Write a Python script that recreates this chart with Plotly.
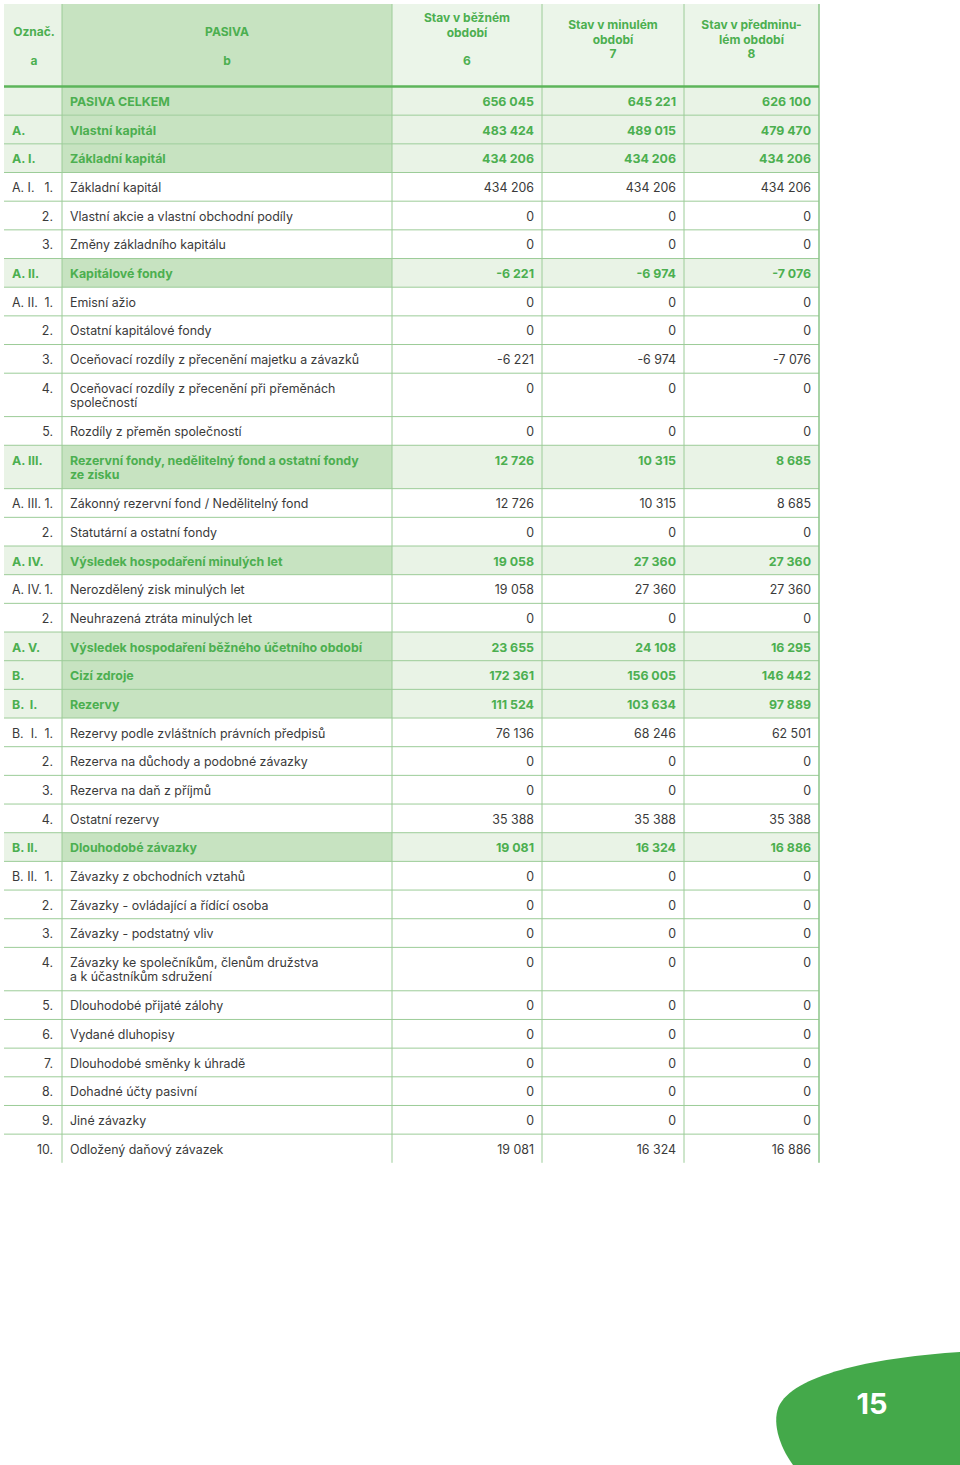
import plotly.graph_objects as go

# ---------------- data ----------------
codes = ["", "A.", "A. I.", "A. I.", "", "", "A. II.", "A. II.", "", "", "", "",
         "A. III.", "A. III.", "", "A. IV.", "A. IV.", "", "A. V.", "B.", "B.  I.",
         "B.  I.", "", "", "", "B. II.", "B. II.", "", "", "", "", "", "", "", "", ""]
nums = ["", "", "", "1.", "2.", "3.", "", "1.", "2.", "3.", "4.", "5.", "", "1.", "2.",
        "", "1.", "2.", "", "", "", "1.", "2.", "3.", "4.", "", "1.", "2.", "3.", "4.",
        "5.", "6.", "7.", "8.", "9.", "10."]
labels = [
    "PASIVA CELKEM",
    "Vlastní kapitál",
    "Základní kapitál",
    "Základní kapitál",
    "Vlastní akcie a vlastní obchodní podíly",
    "Změny základního kapitálu",
    "Kapitálové fondy",
    "Emisní ažio",
    "Ostatní kapitálové fondy",
    "Oceňovací rozdíly z přecenění majetku a závazků",
    "Oceňovací rozdíly z přecenění při přeměnách<br>společností",
    "Rozdíly z přeměn společností",
    "Rezervní fondy, nedělitelný fond a ostatní fondy<br>ze zisku",
    "Zákonný rezervní fond / Nedělitelný fond",
    "Statutární a ostatní fondy",
    "Výsledek hospodaření minulých let",
    "Nerozdělený zisk minulých let",
    "Neuhrazená ztráta minulých let",
    "Výsledek hospodaření běžného účetního období",
    "Cizí zdroje",
    "Rezervy",
    "Rezervy podle zvláštních právních předpisů",
    "Rezerva na důchody a podobné závazky",
    "Rezerva na daň z příjmů",
    "Ostatní rezervy",
    "Dlouhodobé závazky",
    "Závazky z obchodních vztahů",
    "Závazky - ovládající a řídící osoba",
    "Závazky - podstatný vliv",
    "Závazky ke společníkům, členům družstva<br>a k účastníkům sdružení",
    "Dlouhodobé přijaté zálohy",
    "Vydané dluhopisy",
    "Dlouhodobé směnky k úhradě",
    "Dohadné účty pasivní",
    "Jiné závazky",
    "Odložený daňový závazek",
]
current = [656045, 483424, 434206, 434206, 0, 0, -6221, 0, 0, -6221, 0, 0,
           12726, 12726, 0, 19058, 19058, 0, 23655, 172361, 111524, 76136, 0, 0,
           35388, 19081, 0, 0, 0, 0, 0, 0, 0, 0, 0, 19081]
previous = [645221, 489015, 434206, 434206, 0, 0, -6974, 0, 0, -6974, 0, 0,
            10315, 10315, 0, 27360, 27360, 0, 24108, 156005, 103634, 68246, 0, 0,
            35388, 16324, 0, 0, 0, 0, 0, 0, 0, 0, 0, 16324]
before_prev = [626100, 479470, 434206, 434206, 0, 0, -7076, 0, 0, -7076, 0, 0,
               8685, 8685, 0, 27360, 27360, 0, 16295, 146442, 97889, 62501, 0, 0,
               35388, 16886, 0, 0, 0, 0, 0, 0, 0, 0, 0, 16886]
highlight = [1, 1, 1, 0, 0, 0, 1, 0, 0, 0, 0, 0, 1, 0, 0, 1, 0, 0, 1, 1, 1,
             0, 0, 0, 0, 1, 0, 0, 0, 0, 0, 0, 0, 0, 0, 0]
header_texts = [
    ["Označ.", "", "a"],
    ["PASIVA", "", "b"],
    ["Stav v běžném", "období", "", "6"],
    ["Stav v minulém", "období", "7"],
    ["Stav v předminu-", "lém období", "8"],
]
page_number = "15"

# ---------------- styling / layout ----------------
W, H = 960, 1465
GREEN = "#4caf50"
TXT = "#3a3a3a"
LIGHT = "#e9f3e6"
DARK = "#c7e3c1"
LINE = "#9ccc98"
FONT = "Inter"
FS = 12.4
LINE_SP = 14.3
TEXT_DY = 2.2

col_x = [4, 62, 392, 542, 684, 819]
header_top, header_bot = 4, 86.5
header_first = [31, 31, 17, 24, 24]
single_h, double_h = 28.67, 43.4


def fmt(v):
    s = f"{abs(v):,}".replace(",", " ")
    return ("-" if v < 0 else "") + s


heights = [double_h if "<br>" in l else single_h for l in labels]
tops = []
y = header_bot
for h in heights:
    tops.append(y)
    y += h
table_bottom = y

shapes = []


def rect(x0, x1, y0, y1, color):
    shapes.append(dict(type="rect", xref="x", yref="y", x0=x0, x1=x1, y0=y0, y1=y1,
                       fillcolor=color, line=dict(width=0), layer="below"))


rect(col_x[0], col_x[1], header_top, header_bot, LIGHT)
rect(col_x[1], col_x[2], header_top, header_bot, DARK)
rect(col_x[2], col_x[5], header_top, header_bot, "#ebf5e9")

for i, (t, h) in enumerate(zip(tops, heights)):
    if highlight[i]:
        rect(col_x[0], col_x[1], t, t + h, LIGHT)
        rect(col_x[1], col_x[2], t, t + h, DARK)
        rect(col_x[2], col_x[5], t, t + h, LIGHT)

for i, (t, h) in enumerate(zip(tops, heights)):
    if i < len(tops) - 1:
        shapes.append(dict(type="line", xref="x", yref="y", x0=col_x[0], x1=col_x[5],
                           y0=t + h, y1=t + h, line=dict(color=LINE, width=1), layer="below"))
for k, x in enumerate(col_x[1:]):
    shapes.append(dict(type="line", xref="x", yref="y", x0=x, x1=x,
                       y0=header_top, y1=table_bottom, layer="below",
                       line=dict(color="#8cc48a" if k == 4 else LINE, width=1.5 if k == 4 else 1)))
shapes.append(dict(type="line", xref="x", yref="y", x0=col_x[0], x1=col_x[5],
                   y0=header_bot, y1=header_bot, line=dict(color="#5cb55a", width=2.5),
                   layer="below"))

shapes.append(dict(type="path", xref="x", yref="y",
                   path="M 960,1352 C 880,1357 798,1373 780,1404 C 771,1420 779,1446 793,1465 L 960,1465 Z",
                   fillcolor="#44a94a", line=dict(width=0), layer="below"))

fig = go.Figure()


def add_text(xs, ys, texts, pos, color, bold, size=FS, family=FONT):
    fig.add_trace(go.Scatter(
        x=xs, y=ys, text=texts, mode="text", textposition=pos, hoverinfo="skip",
        textfont=dict(family=family, size=size, color=color,
                      weight="bold" if bold else "normal"),
        showlegend=False))


first_line = [t + single_h / 2 + TEXT_DY for t in tops]

for hl in (0, 1):
    idx = [i for i in range(len(labels)) if highlight[i] == hl]
    color = GREEN if hl else TXT
    bold = bool(hl)
    add_text([col_x[0] + 8] * len(idx), [first_line[i] for i in idx],
             [codes[i] for i in idx], "middle right", color, bold)
    add_text([col_x[1] - 9] * len(idx), [first_line[i] for i in idx],
             [nums[i] for i in idx], "middle left", color, bold)
    lx, ly, lt = [], [], []
    for i in idx:
        for j, part in enumerate(labels[i].split("<br>")):
            lx.append(col_x[1] + 8)
            ly.append(first_line[i] + j * LINE_SP)
            lt.append(part)
    add_text(lx, ly, lt, "middle right", color, bold)
    for c, series in enumerate((current, previous, before_prev)):
        add_text([col_x[c + 3] - 8] * len(idx), [first_line[i] for i in idx],
                 [fmt(series[i]) for i in idx], "middle left", color, bold)

hx, hy, ht = [], [], []
for c, lines in enumerate(header_texts):
    for j, part in enumerate(lines):
        if part:
            hx.append((col_x[c] + col_x[c + 1]) / 2 + (1 if c == 0 else 0))
            hy.append(header_first[c] + j * LINE_SP + TEXT_DY)
            ht.append(part)
add_text(hx, hy, ht, "middle center", GREEN, True, 12)

add_text([872], [1407], [page_number], "middle center", "white", True, 29)

fig.update_layout(
    width=W, height=H, margin=dict(l=0, r=0, t=0, b=0),
    paper_bgcolor="white", plot_bgcolor="white",
    xaxis=dict(range=[0, W], visible=False, fixedrange=True),
    yaxis=dict(range=[H, 0], visible=False, fixedrange=True),
    shapes=shapes,
)
fig.write_html("out.html", config={"displayModeBar": False},
               post_script="document.body.style.margin='0';document.body.style.overflow='hidden';")
